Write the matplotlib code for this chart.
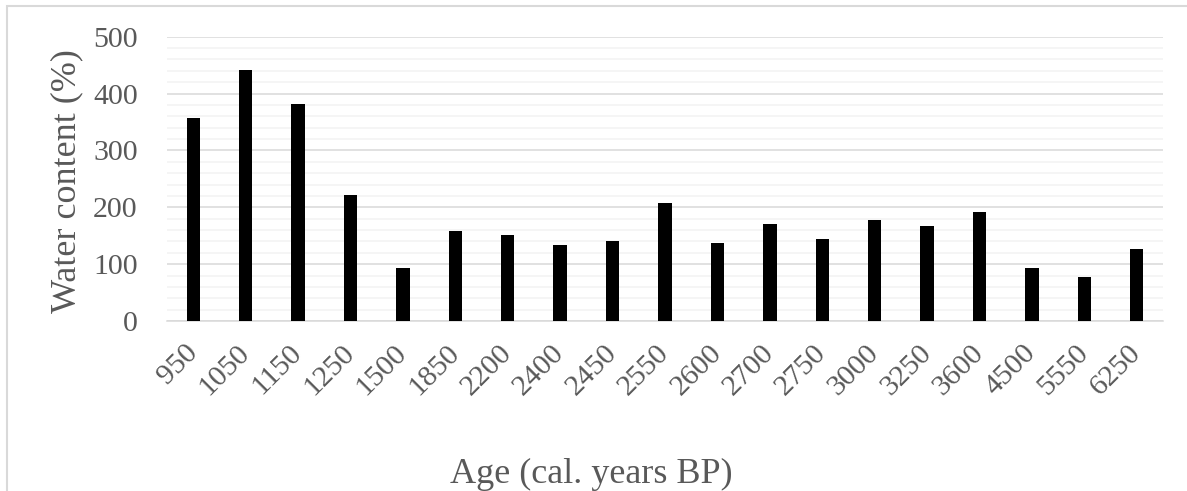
import matplotlib
matplotlib.use("Agg")
import matplotlib.pyplot as plt
from matplotlib.patches import Rectangle

# Sample ages (cal. years BP) and measured water content (%)
ages = ["950", "1050", "1150", "1250", "1500", "1850", "2200", "2400", "2450",
        "2550", "2600", "2700", "2750", "3000", "3250", "3600", "4500", "5550", "6250"]
water_content = [357, 441, 381, 222, 94, 158, 151, 134, 141,
                 207, 138, 171, 144, 178, 167, 192, 94, 77, 127]
y_ticks = [0, 100, 200, 300, 400, 500]

plt.rcParams['font.family'] = ['Liberation Serif', 'DejaVu Serif']

W, H = 1187, 491
fig = plt.figure(figsize=(W / 100, H / 100), dpi=100)
ax = fig.add_axes([167 / W, 1 - 321 / H, 996 / W, 284.3 / H])

pos = list(range(len(ages)))
ax.bar(pos, water_content, width=0.255, color='black', zorder=3)

ax.set_xlim(-0.5, len(ages) - 0.5)
ax.set_ylim(0, 500)
ax.set_yticks(y_ticks)
ax.set_yticks(range(0, 501, 20), minor=True)
ax.grid(axis='y', which='major', color='#d9d9d9', lw=1.1, zorder=0)
ax.grid(axis='y', which='minor', color='#f2f2f2', lw=1.1, zorder=0)
ax.set_axisbelow(True)

for side in ('top', 'left', 'right'):
    ax.spines[side].set_visible(False)
ax.spines['bottom'].set_color('#d9d9d9')
ax.spines['bottom'].set_linewidth(1.1)

ax.tick_params(axis='y', which='both', length=0, pad=21, labelsize=21.5, labelcolor='#595959')
ax.tick_params(axis='x', which='both', length=0, pad=20, labelsize=21.5, labelcolor='#595959')
ax.set_xticks(pos)
ax.set_xticklabels(ages, rotation=45, ha='right', va='center', rotation_mode='anchor')

fig.text(67 / W, 1 - 181.5 / H, "Water content (%)", rotation=90, ha='center', va='center',
         fontsize=26, color='#595959')
fig.text(450 / W, 1 - 483 / H, "Age (cal. years BP)", ha='left', va='baseline',
         fontsize=26, color='#595959')

# Chart frame
fig.add_artist(Rectangle((7 / W, -0.2), 1.5, 1.2 - 6 / H, transform=fig.transFigure,
                         fill=False, edgecolor='#d9d9d9', lw=1.5))

fig.savefig("out.png", dpi=100)
